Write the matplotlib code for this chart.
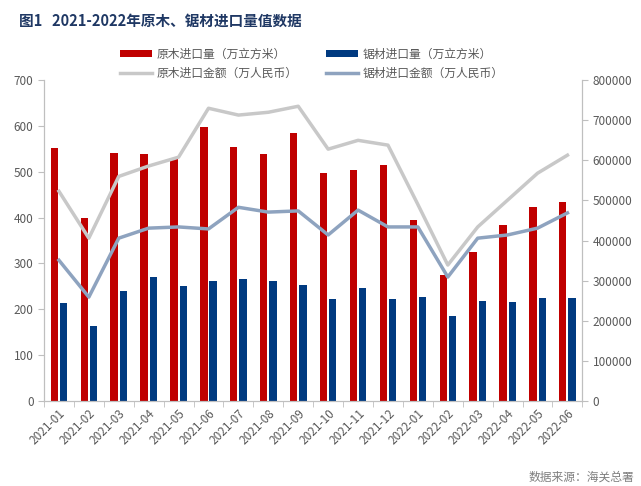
import matplotlib
matplotlib.use("Agg")
import matplotlib.pyplot as plt
import numpy as np

plt.rcParams['font.family'] = ['Noto Sans CJK SC', 'DejaVu Sans']

months = ["2021-01", "2021-02", "2021-03", "2021-04", "2021-05", "2021-06",
          "2021-07", "2021-08", "2021-09", "2021-10", "2021-11", "2021-12",
          "2022-01", "2022-02", "2022-03", "2022-04", "2022-05", "2022-06"]
log_volume = [552, 399, 541, 539, 527, 598, 554, 539, 585, 498, 504, 515,
              394, 274, 324, 385, 423, 434]
lumber_volume = [214, 164, 240, 270, 251, 261, 266, 261, 253, 222, 246, 223,
                 227, 186, 218, 216, 225, 225]
log_value = [523000, 406000, 560000, 586000, 608000, 730000, 713000, 720000, 735000,
             628000, 650000, 638000, 490000, 339000, 434000, 501000, 568000, 613000]
lumber_value = [351000, 259000, 406000, 431000, 434000, 429000, 483000, 471000, 474000,
                414000, 476000, 434000, 434000, 309000, 406000, 414000, 431000, 469000]

red = "#C00000"
blue = "#003A80"
gray_line = "#C8C8C8"
blue_line = "#8EA3BF"
axis_gray = "#BFBFBF"
text_gray = "#595959"

fig = plt.figure(figsize=(6.41, 4.86), dpi=100)
ax = fig.add_axes([0.0686, 0.175, 0.84, 0.66])
ax2 = ax.twinx()

x = np.arange(len(months))
w = 0.245
b1 = ax.bar(x - 0.155, log_volume, w, color=red, label="原木进口量（万立方米）")
b2 = ax.bar(x + 0.155, lumber_volume, w, color=blue, label="锯材进口量（万立方米）")
l1, = ax2.plot(x, log_value, color=gray_line, lw=2.5, label="原木进口金额（万人民币）")
l2, = ax2.plot(x, lumber_value, color=blue_line, lw=2.5, label="锯材进口金额（万人民币）")

ax.set_xlim(-0.5, len(months) - 0.5)
ax.set_ylim(0, 700)
ax.set_yticks(range(0, 701, 100))
ax2.set_ylim(0, 800000)
ax2.set_yticks(range(0, 800001, 100000))

ax.set_xticks(x)
ax.set_xticklabels(months, rotation=45, ha="right", rotation_mode="anchor")
ax.set_xticks(np.arange(-0.5, len(months), 1), minor=True)
ax.tick_params(axis="x", which="major", length=0, labelsize=8.5, colors=text_gray, pad=4)
ax.tick_params(axis="x", which="minor", length=4, color=axis_gray)

for a in (ax, ax2):
    a.tick_params(axis="y", labelsize=8.5, colors=text_gray, length=4, color=axis_gray)
    a.spines["top"].set_visible(False)
    for s in ("left", "right", "bottom"):
        a.spines[s].set_color(axis_gray)

fig.text(0.03, 0.957, "图1   2021-2022年原木、锯材进口量值数据", fontsize=10.5,
         fontweight="bold", color="#1F3864", va="center")

# legend fills column-wise: bars on row 1, lines on row 2
handles = [b1, l1, b2, l2]
fig.legend(handles, [h.get_label() for h in handles], ncol=2, loc="center",
           bbox_to_anchor=(0.486, 0.869), frameon=False, fontsize=8.5,
           labelcolor=text_gray, handlelength=2.7, columnspacing=2.4,
           handletextpad=0.4, handleheight=0.5, labelspacing=0.55)

fig.text(0.99, 0.018, "数据来源：海关总署", fontsize=8.5, color="#7F7F7F",
         ha="right", va="center")

fig.savefig("out.png", dpi=100)
